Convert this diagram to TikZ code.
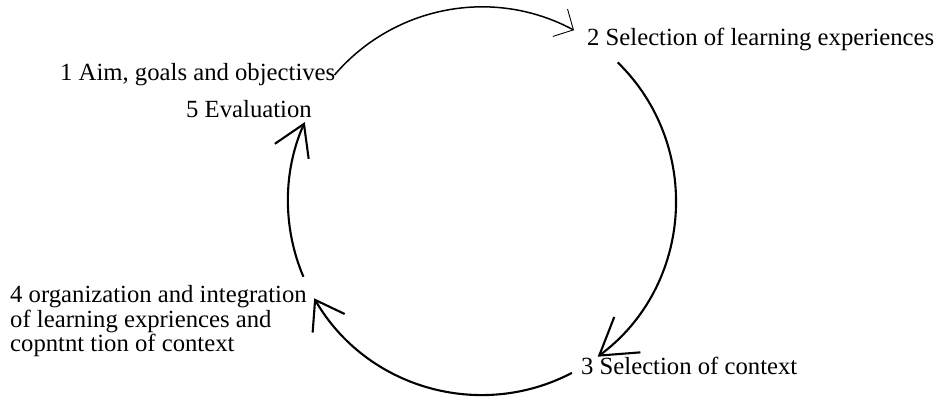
\documentclass[tikz,border=0pt]{standalone}
\usepackage{fontspec}
\setmainfont{Liberation Serif}
\usetikzlibrary{arrows.meta,calc}
\begin{document}
\begin{tikzpicture}[x=1pt,y=1pt,
  lbl/.style={inner sep=0pt, anchor=base west, font=\fontsize{24.7}{23.5}\selectfont},
  cyc/.style={line width=2.1pt},
  thincyc/.style={line width=1.5pt}
]
\useasboundingbox (0,0) rectangle (938,399);
\coordinate (O) at (482,198);
% labels
\node[lbl] (n1) at (60,318) {1 Aim, goals and objectives};
\node[lbl] (n2) at (587,353) {2 Selection of learning experiences};
\node[lbl] (n3) at (581,24) {3 Selection of context};
\node[lbl] (n4) at (10,96) {\begin{tabular}[t]{@{}l@{}}4 organization and integration\\of learning expriences and\\copntnt tion of context\end{tabular}};
\node[lbl] (n5) at (186,281) {5 Evaluation};
% arc end points on the cycle
\coordinate (a1s) at ($(O)+(139.5:194)$);
\coordinate (a1e) at ($(O)+(61.7:194)$);
\coordinate (a2s) at ($(O)+(45.6:194)$);
\coordinate (a2e) at ($(O)+(-53.4:194)$);
\coordinate (a3s) at ($(O)+(-62.4:194)$);
\coordinate (a3e) at ($(O)+(210.1:194)$);
\coordinate (a4s) at ($(O)+(203:194)$);
\coordinate (a4e) at ($(O)+(156:194)$);
% connectors
\draw[thincyc, -{Straight Barb[length=15pt,width=31pt,line width=0.9pt]}]
  (a1s) to[out=49.5, in=151.7, looseness=0.96] (a1e);
\draw[cyc, -{Straight Barb[length=35pt,width=44pt]}]
  (a2s) to[out=-44.4, in=36.6, looseness=1.032] (a2e);
\draw[cyc, -{Straight Barb[length=27pt,width=37pt]}]
  (a3s) to[out=-152.4, in=-59.9, looseness=0.989] (a3e);
\draw[cyc, -{Straight Barb[length=30pt,width=37pt]}]
  (a4s) to[out=113, in=246, looseness=0.888] (a4e);
\end{tikzpicture}
\end{document}
